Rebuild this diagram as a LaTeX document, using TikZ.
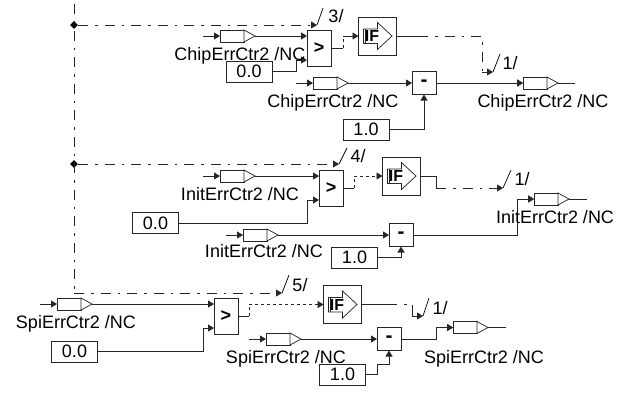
\documentclass[tikz,border=0pt]{standalone}
\usepackage{fontspec}
\setmainfont{Liberation Sans}
\usetikzlibrary{arrows.meta,calc,shapes.geometric}
\newdimen\pxu \pxu=0.75pt
\tikzset{
  txt/.style={font=\fontsize{13.5}{16}\selectfont,inner sep=0pt,outer sep=0pt},
  lab/.style={txt,anchor=base},
  wire/.style={line width=0.65pt,draw=black!85,-{Stealth[length=4.5pt,width=5.25pt,inset=0pt]}},
  plain/.style={line width=0.65pt,draw=black!85},
  dd/.style={plain,dash pattern=on 7.5pt off 5.25pt on 1.9pt off 5.25pt},
  ddw/.style={wire,dash pattern=on 7.5pt off 5.25pt on 1.9pt off 5.25pt},
  sdw/.style={wire,dash pattern=on 2.25pt off 2.25pt},
  sd/.style={plain,dash pattern=on 2.25pt off 2.25pt},
  tick/.style={line width=0.55pt,draw=black},
  tagbox/.style={draw=black!85,line width=0.65pt,fill=white,minimum width=24\pxu,minimum height=12\pxu,inner sep=0pt,outer sep=0pt},
  tagtri/.style={draw=black!85,line width=0.55pt,fill=white},
  valbox/.style={txt,draw=black!85,line width=0.65pt,fill=white,minimum width=46\pxu,minimum height=21\pxu},
  opbox/.style={txt,font=\fontsize{13.5}{16}\selectfont\bfseries,draw=black!85,line width=0.65pt,fill=white,minimum width=24\pxu},
  cmpbox/.style={opbox,minimum height=36\pxu},
  minbox/.style={opbox,font=\fontsize{15.5}{16}\selectfont\bfseries,minimum height=23\pxu},
  ifbox/.style={draw=black!85,line width=0.65pt,fill=white,minimum width=38\pxu,minimum height=38\pxu,inner sep=0pt,outer sep=0pt},
  iftxt/.style={txt,font=\fontsize{12}{14}\selectfont\bfseries},
  dotmark/.style={diamond,fill=black,minimum width=8\pxu,minimum height=8\pxu,inner sep=0pt},
}
\newcommand\tagel[3]{%
  \node[tagbox,anchor=west] (#1) at (#2,#3) {};
  \draw[tagtri] (#1.north east) -- ($(#1.east)+(11,0)$) coordinate (#1-out) -- (#1.south east) -- cycle;
  \coordinate (#1-in) at ($(#1.west)+(-17,0)$);
  \draw[wire] (#1-in) -- (#1.west);
}
\newcommand\ifel[3]{%
  \node[ifbox] (#1) at (#2,#3) {};
  \draw[tagtri,shift={(#2,#3)}] (-14,-7) -- (0,-7) -- (0,-13.5) -- (14.5,0) -- (0,13.5) -- (0,7.5) -- (-14,7.5) -- cycle;
  \draw[plain,shift={(#2,#3)}] (-12.5,-7) -- (-12.5,7.5);
  \node[iftxt] (#1-t) at (#2-5.5,#3) {IF};
}
\begin{document}
\begin{tikzpicture}[x=0.75pt,y=-0.75pt]
\useasboundingbox (0,0) rectangle (620,394);
% trunk
\coordinate (top) at (74,4);
\coordinate (corner) at (74,293);
\node[dotmark] (d1) at (74,25) {};
\node[dotmark] (d2) at (74,164) {};
\coordinate (a3) at (317,25);
\coordinate (a4) at (339,164);
\coordinate (a5) at (282,293);
\draw[dd] (top) -- (corner);
\draw[ddw] (d1) -- (a3);
\draw[ddw] (d2) -- (a4);
\draw[ddw] (corner) -- (a5);
\coordinate (t3) at (323,8);
\coordinate (t4) at (347,148);
\coordinate (t5) at (289,275);
\draw[tick] (a3) -- (t3);
\draw[tick] (a4) -- (t4);
\draw[tick] (a5) -- (t5);
\node[lab] (n3) at (336,22) {3/};
\node[lab] (n4) at (358,162.5) {4/};
\node[lab] (n5) at (300,291.5) {5/};
% ---- group 1
\tagel{a}{220}{36}
\node[cmpbox] (c1) at (319,48) {>};
\node[valbox] (z1) at (249,71.5) {0.0};
\ifel{if1}{377.5}{36}
\draw[wire] (a-out) -- (c1.west|-a-out);
\draw[wire] (z1.east) -| ($(c1.west)+(-11,12)$) -- ($(c1.west)+(0,12)$);
\coordinate (b1) at (343,48);
\coordinate (b1u) at (343,36);
\draw[plain] (c1.east) -- (b1);
\draw[sd] (b1) -- (b1u);
\draw[wire] (b1u) -- (if1.west);
\coordinate (s1) at (418,36);
\coordinate (v1) at (482,36);
\coordinate (w1) at (482,72);
\coordinate (e1) at (493,72);
\coordinate (e1t) at (500,54);
\draw[plain] (if1.east) -- (s1);
\draw[dd] (s1) -- (v1) -- (w1);
\draw[wire] (w1) -- (e1);
\draw[tick] (e1) -- (e1t);
\node[lab] (n1a) at (510,69.5) {1/};
\tagel{b}{313}{83}
\node[minbox] (m1) at (424,83) {-};
\tagel{c}{523}{83}
\draw[wire] (b-out) -- (m1.west);
\draw[wire] (m1.east) -- (c.west);
\draw[plain] (c-out) -- ++(17,0) coordinate (c-end);
\node[valbox] (o1) at (366,129.5) {1.0};
\draw[wire] (o1.east) -| (m1.south);
\node[lab] (l1) at (240,60.5) {ChipErrCtr2 /NC};
\node[lab] (l2) at (333,107.5) {ChipErrCtr2 /NC};
\node[lab] (l3) at (543,107.5) {ChipErrCtr2 /NC};
% ---- group 2
\tagel{d}{220}{176}
\node[cmpbox] (c2) at (331,188) {>};
\node[valbox] (z2) at (155.5,223) {0.0};
\ifel{if2}{401.5}{176}
\draw[wire] (d-out) -- (c2.west|-d-out);
\draw[wire] (z2.east) -| ($(c2.west)+(-12,12)$) -- ($(c2.west)+(0,12)$);
\coordinate (b2) at (354,188);
\coordinate (b2u) at (354,176);
\draw[plain] (c2.east) -- (b2);
\draw[sd] (b2) -- (b2u);
\draw[sdw] (b2u) -- (if2.west);
\coordinate (v2) at (436,176);
\coordinate (w2) at (436,188);
\coordinate (e2) at (503,188);
\coordinate (e2t) at (511,170);
\draw[plain] (if2.east) -- (v2) -- (w2);
\draw[ddw] (w2) -- (e2);
\draw[tick] (e2) -- (e2t);
\node[lab] (n1b) at (522,185.5) {1/};
\tagel{f}{243}{235}
\node[minbox] (m2) at (401,235) {-};
\tagel{g}{534}{199}
\draw[wire] (f-out) -- (m2.west);
\draw[wire] (m2.east) -| ($(g.west)+(-17,0)$) -- (g.west);
\draw[plain] (g-out) -- ++(18,0) coordinate (g-end);
\node[valbox] (o2) at (354.5,257.5) {1.0};
\draw[wire] (o2.east) -| (m2.south);
\node[lab] (l4) at (240,200.5) {InitErrCtr2 /NC};
\node[lab] (l5) at (264,257.5) {InitErrCtr2 /NC};
\node[lab] (l6) at (555,223.5) {InitErrCtr2 /NC};
% ---- group 3
\tagel{h}{57}{304}
\node[cmpbox] (c3) at (226,316) {>};
\node[valbox] (z3) at (74.5,351.5) {0.0};
\ifel{if3}{342.5}{304.5}
\draw[wire] (h-out) -- (c3.west|-h-out);
\draw[wire] (z3.east) -| ($(c3.west)+(-11,12)$) -- ($(c3.west)+(0,12)$);
\coordinate (b3) at (249,316);
\coordinate (b3u) at (249,304.5);
\draw[plain] (c3.east) -- (b3);
\draw[sd] (b3) -- (b3u);
\draw[sdw] (b3u) -- (if3.west);
\coordinate (s3) at (387,304.5);
\coordinate (v3) at (412,304.5);
\coordinate (w3) at (412,316);
\coordinate (e3) at (423,316);
\coordinate (e3t) at (429,298);
\draw[plain] (if3.east) -- (s3);
\draw[dd] (s3) -- (v3);
\draw[plain] (v3) -- (w3);
\draw[wire] (w3) -- (e3);
\draw[tick] (e3) -- (e3t);
\node[lab] (n1c) at (440,314.5) {1/};
\tagel{i}{266}{339}
\node[minbox] (m3) at (389,339) {-};
\tagel{j}{453}{327.5}
\draw[wire] (i-out) -- (m3.west);
\draw[wire] (m3.east) -| ($(j.west)+(-17,0)$) -- (j.west);
\draw[plain] (j-out) -- ++(18,0) coordinate (j-end);
\node[valbox] (o3) at (342.5,374.5) {1.0};
\coordinate (k3) at (377,374.5);
\coordinate (k3u) at (377,364);
\draw[plain] (o3.east) -- (k3) -- (k3u);
\draw[wire] (k3u) -| (m3.south);
\node[lab] (l7) at (76,328.5) {SpiErrCtr2 /NC};
\node[lab] (l8) at (286,363.5) {SpiErrCtr2 /NC};
\node[lab] (l9) at (484,363.5) {SpiErrCtr2 /NC};
\end{tikzpicture}
\end{document}
